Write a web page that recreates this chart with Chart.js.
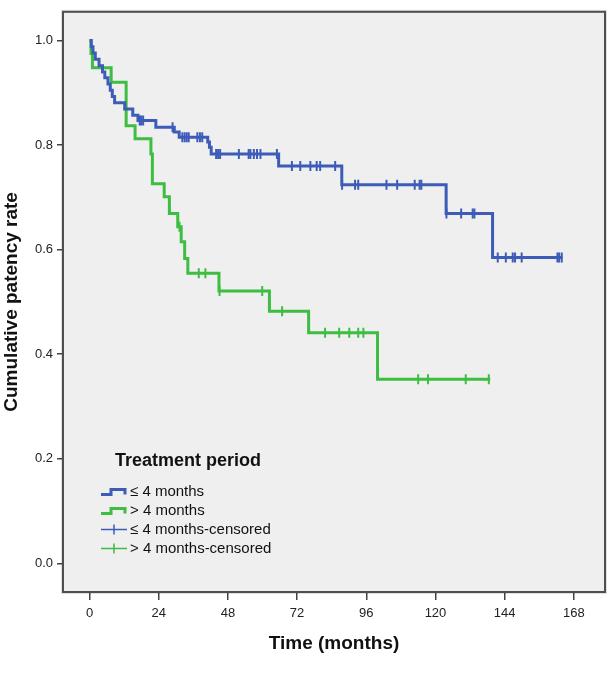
<!DOCTYPE html>
<html>
<head>
<meta charset="utf-8">
<script src="https://cdn.jsdelivr.net/npm/chart.js@4/dist/chart.umd.min.js"></script>
<style>
  html, body { margin: 0; padding: 0; background: #ffffff; }
  #wrap { width: 612px; height: 675px; position: relative; }
</style>
</head>
<body>
<div id="wrap"><canvas id="c" width="612" height="675"></canvas></div>
<script>
// ---- data ----
const xTicks = [0, 24, 48, 72, 96, 120, 144, 168];
const yTicks = [0.0, 0.2, 0.4, 0.6, 0.8, 1.0];

const seriesNames = ["≤ 4 months", "> 4 months"];
const censorNames = ["≤ 4 months-censored", "> 4 months-censored"];
const legendTitle = "Treatment period";
const xTitle = "Time (months)";
const yTitle = "Cumulative patency rate";

const blueEventTimes = [0.6, 1.2, 2.0, 3.3, 4.5, 5.3, 6.4, 7.2, 7.9, 8.7, 12.2, 15.0, 16.8, 23.0, 29.4, 31.1, 41.0, 41.6, 42.2, 65.6, 87.5, 123.7, 139.8];
const blueSurvival   = [0.988, 0.976, 0.964, 0.952, 0.940, 0.929, 0.917, 0.905, 0.893, 0.881, 0.869, 0.857, 0.847, 0.834, 0.825, 0.815, 0.806, 0.796, 0.783, 0.760, 0.724, 0.669, 0.585];
const blueCensored   = [17.4, 17.9, 18.6, 28.8, 32.2, 33.0, 33.7, 34.4, 37.4, 38.3, 39.1, 43.9, 44.6, 45.3, 51.8, 55.2, 55.8, 57.0, 58.1, 59.3, 65.0, 70.2, 73.1, 76.6, 78.8, 80.0, 85.2, 87.6, 92.1, 93.2, 103.0, 106.7, 112.8, 114.5, 115.1, 123.8, 128.9, 132.9, 133.5, 141.6, 144.4, 146.8, 147.6, 149.9, 162.3, 162.9, 163.8];
const blueLastTime = 164;

const greenEventTimes = [0.5, 1.0, 7.5, 12.7, 15.8, 21.3, 21.8, 25.9, 27.7, 30.6, 31.8, 33.0, 34.1, 44.9, 62.4, 76.0, 99.9];
const greenSurvival   = [0.975, 0.948, 0.920, 0.837, 0.812, 0.783, 0.726, 0.701, 0.669, 0.644, 0.615, 0.583, 0.555, 0.521, 0.482, 0.441, 0.352];
const greenCensored   = [31.2, 37.9, 40.2, 45.1, 59.9, 66.8, 81.7, 86.6, 90.1, 93.2, 95.0, 114.0, 117.4, 130.5, 138.5];
const greenLastTime = 139;

// ---- styles ----
const BLUE = "#3d5cb8";
const GREEN = "#3dbd41";
const FONT = '"Liberation Sans", Arial, Helvetica, sans-serif';

function stepPoints(times, surv, lastTime) {
  const pts = [{ x: 0, y: 1 }];
  times.forEach((t, i) => pts.push({ x: t, y: surv[i] }));
  pts.push({ x: lastTime, y: surv[surv.length - 1] });
  return pts;
}
function survivalAt(times, surv, t) {
  let s = 1;
  for (let i = 0; i < times.length; i++) if (times[i] <= t) s = surv[i];
  return s;
}
function censorPoints(cens, times, surv) {
  return cens.map(t => ({ x: t, y: survivalAt(times, surv, t) }));
}

const framePlugin = {
  id: "frame",
  beforeDraw(chart) {
    const { ctx, chartArea: a } = chart;
    ctx.save();
    ctx.fillStyle = "#efefef";
    ctx.fillRect(a.left, a.top, a.right - a.left, a.bottom - a.top);
    ctx.restore();
  },
  beforeDatasetsDraw(chart) {
    const { ctx, chartArea: a } = chart;
    ctx.save();
    ctx.strokeStyle = "rgba(0,0,0,0.12)";
    ctx.lineWidth = 1;
    ctx.strokeRect(a.left - 1.5, a.top - 1.5, a.right - a.left + 3, a.bottom - a.top + 3);
    ctx.strokeStyle = "#4f4f4f";
    ctx.lineWidth = 2;
    ctx.strokeRect(a.left, a.top, a.right - a.left, a.bottom - a.top);
    ctx.restore();
  }
};

const legendPlugin = {
  id: "kmLegend",
  afterDatasetsDraw(chart) {
    const ctx = chart.ctx;
    ctx.save();
    ctx.fillStyle = "#111";
    ctx.textBaseline = "middle";
    ctx.textAlign = "left";
    ctx.font = "bold 18px " + FONT;
    ctx.fillText(legendTitle, 115, 461);

    const x0 = 101, textX = 130;
    const rows = [491.5, 510.5, 529.5, 548.5];
    const colors = [BLUE, GREEN];
    for (let i = 0; i < 2; i++) {
      const y = rows[i];
      ctx.strokeStyle = colors[i];
      ctx.lineWidth = 3;
      ctx.lineJoin = "miter";
      ctx.beginPath();
      ctx.moveTo(x0, y + 3);
      ctx.lineTo(x0 + 10, y + 3);
      ctx.lineTo(x0 + 10, y - 2);
      ctx.lineTo(x0 + 24, y - 2);
      ctx.lineTo(x0 + 24, y + 3);
      ctx.stroke();
      ctx.fillStyle = "#111";
      ctx.font = "15px " + FONT;
      ctx.fillText(seriesNames[i], textX, y);
    }
    for (let i = 0; i < 2; i++) {
      const y = rows[i + 2];
      ctx.strokeStyle = colors[i];
      ctx.lineWidth = 1.5;
      ctx.beginPath();
      ctx.moveTo(x0, y);
      ctx.lineTo(x0 + 26, y);
      ctx.moveTo(x0 + 13, y - 5);
      ctx.lineTo(x0 + 13, y + 5);
      ctx.stroke();
      ctx.fillStyle = "#111";
      ctx.font = "15px " + FONT;
      ctx.fillText(censorNames[i], textX, y);
    }
    ctx.restore();
  }
};

Chart.defaults.font.family = FONT;
Chart.defaults.color = "#222";

new Chart(document.getElementById("c"), {
  type: "scatter",
  data: {
    datasets: [
      {
        label: seriesNames[0],
        data: stepPoints(blueEventTimes, blueSurvival, blueLastTime),
        showLine: true, stepped: "before",
        borderColor: BLUE, borderWidth: 3, pointRadius: 0, fill: false
      },
      {
        label: censorNames[0],
        data: censorPoints(blueCensored, blueEventTimes, blueSurvival),
        showLine: false, pointStyle: "line", rotation: 90, pointRadius: 5,
        borderColor: BLUE, borderWidth: 2, backgroundColor: BLUE
      },
      {
        label: seriesNames[1],
        data: stepPoints(greenEventTimes, greenSurvival, greenLastTime),
        showLine: true, stepped: "before",
        borderColor: GREEN, borderWidth: 3, pointRadius: 0, fill: false
      },
      {
        label: censorNames[1],
        data: censorPoints(greenCensored, greenEventTimes, greenSurvival),
        showLine: false, pointStyle: "line", rotation: 90, pointRadius: 5,
        borderColor: GREEN, borderWidth: 2, backgroundColor: GREEN
      }
    ]
  },
  options: {
    responsive: false,
    animation: false,
    devicePixelRatio: 1,
    layout: { padding: { top: 9, right: 5, left: 0, bottom: 0 } },
    plugins: { legend: { display: false }, tooltip: { enabled: false } },
    scales: {
      x: {
        type: "linear",
        min: -9.2, max: 178.8,
        afterBuildTicks: s => { s.ticks = xTicks.map(v => ({ value: v })); },
        afterFit: s => { s.height = 83; },
        grid: { drawOnChartArea: false, drawTicks: true, tickLength: 8, color: "#444", lineWidth: 1.5 },
        border: { display: false },
        ticks: { font: { size: 13 }, color: "#222", padding: 6, maxRotation: 0, callback: v => String(v) },
        title: { display: true, text: xTitle, font: { size: 19, weight: "bold" }, color: "#111", padding: { top: 8, bottom: 20 } }
      },
      y: {
        type: "linear",
        min: -0.055, max: 1.055,
        afterBuildTicks: s => { s.ticks = yTicks.map(v => ({ value: v })); },
        afterFit: s => { s.width = 63; },
        grid: { drawOnChartArea: false, drawTicks: true, tickLength: 6, color: "#444", lineWidth: 1.5 },
        border: { display: false },
        ticks: { font: { size: 13 }, color: "#222", padding: 4, callback: v => Number(v).toFixed(1) },
        title: { display: true, text: yTitle, font: { size: 19, weight: "bold" }, color: "#111", padding: { top: 0, bottom: 6 } }
      }
    }
  },
  plugins: [framePlugin, legendPlugin]
});
</script>
</body>
</html>
